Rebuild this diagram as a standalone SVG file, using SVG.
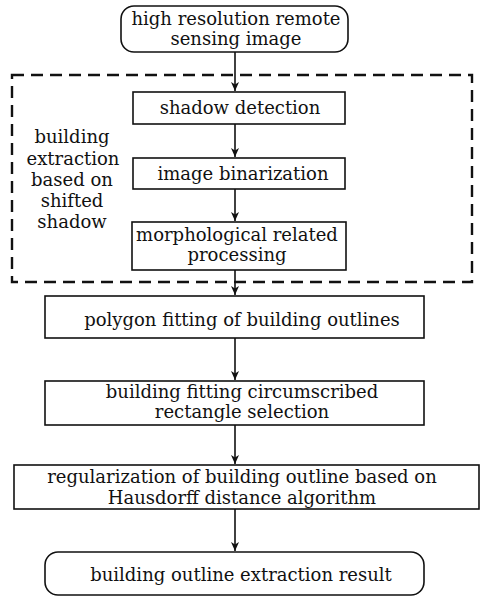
<svg xmlns="http://www.w3.org/2000/svg" width="482" height="597" viewBox="0 0 482 597">
<style>
.box{fill:#fff;stroke:#111;stroke-width:1.6}
.t{font-family:"DejaVu Serif","Liberation Serif",serif;font-size:18px;fill:#111;text-anchor:middle}
.c{stroke:#111;stroke-width:1.6;fill:none}
</style>
<defs>
<marker id="ah" markerWidth="10" markerHeight="10" refX="9" refY="4" orient="auto" markerUnits="userSpaceOnUse">
<path d="M0,0 L9,4 L0,8 L2.5,4 z" fill="#111"/>
</marker>
</defs>
<rect width="482" height="597" fill="#fff"/>
<g id="group-frame">
<rect x="12" y="75" width="460" height="207" fill="none" stroke="#111" stroke-width="2.4" stroke-dasharray="12,7"/>
<text class="t" x="72" y="143">building</text>
<text class="t" x="73" y="165">extraction</text>
<text class="t" x="72" y="186">based on</text>
<text class="t" x="72" y="207">shifted</text>
<text class="t" x="72" y="228">shadow</text>
</g>
<g id="connectors">
<line class="c" x1="235" y1="52" x2="235" y2="91" marker-end="url(#ah)"/>
<line class="c" x1="235" y1="124" x2="235" y2="157" marker-end="url(#ah)"/>
<line class="c" x1="235" y1="189" x2="235" y2="221" marker-end="url(#ah)"/>
<line class="c" x1="235" y1="270" x2="235" y2="295" marker-end="url(#ah)"/>
<line class="c" x1="235" y1="338" x2="235" y2="380" marker-end="url(#ah)"/>
<line class="c" x1="235" y1="425" x2="235" y2="464" marker-end="url(#ah)"/>
<line class="c" x1="235" y1="509" x2="235" y2="551" marker-end="url(#ah)"/>
</g>
<g id="n-input">
<rect class="box" x="121" y="6" width="227" height="46" rx="13"/>
<text class="t" x="236" y="25">high resolution remote</text>
<text class="t" x="236" y="45">sensing image</text>
</g>
<g id="n-shadow">
<rect class="box" x="133" y="92" width="212" height="32"/>
<text class="t" x="240" y="114">shadow detection</text>
</g>
<g id="n-binar">
<rect class="box" x="133" y="158" width="212" height="31"/>
<text class="t" x="243" y="180">image binarization</text>
</g>
<g id="n-morph">
<rect class="box" x="132" y="222" width="214" height="48"/>
<text class="t" x="237" y="241">morphological related</text>
<text class="t" x="237" y="261">processing</text>
</g>
<g id="n-polygon">
<rect class="box" x="45" y="296" width="379" height="42"/>
<text class="t" x="242" y="326">polygon fitting of building outlines</text>
</g>
<g id="n-rect">
<rect class="box" x="45" y="381" width="379" height="44"/>
<text class="t" x="242" y="398">building fitting circumscribed</text>
<text class="t" x="242" y="418">rectangle selection</text>
</g>
<g id="n-reg">
<rect class="box" x="14" y="465" width="465" height="44"/>
<text class="t" x="242" y="483">regularization of building outline based on</text>
<text class="t" x="242" y="504">Hausdorff distance algorithm</text>
</g>
<g id="n-result">
<rect class="box" x="45" y="552" width="379" height="43" rx="13"/>
<text class="t" x="241" y="581">building outline extraction result</text>
</g>
</svg>
